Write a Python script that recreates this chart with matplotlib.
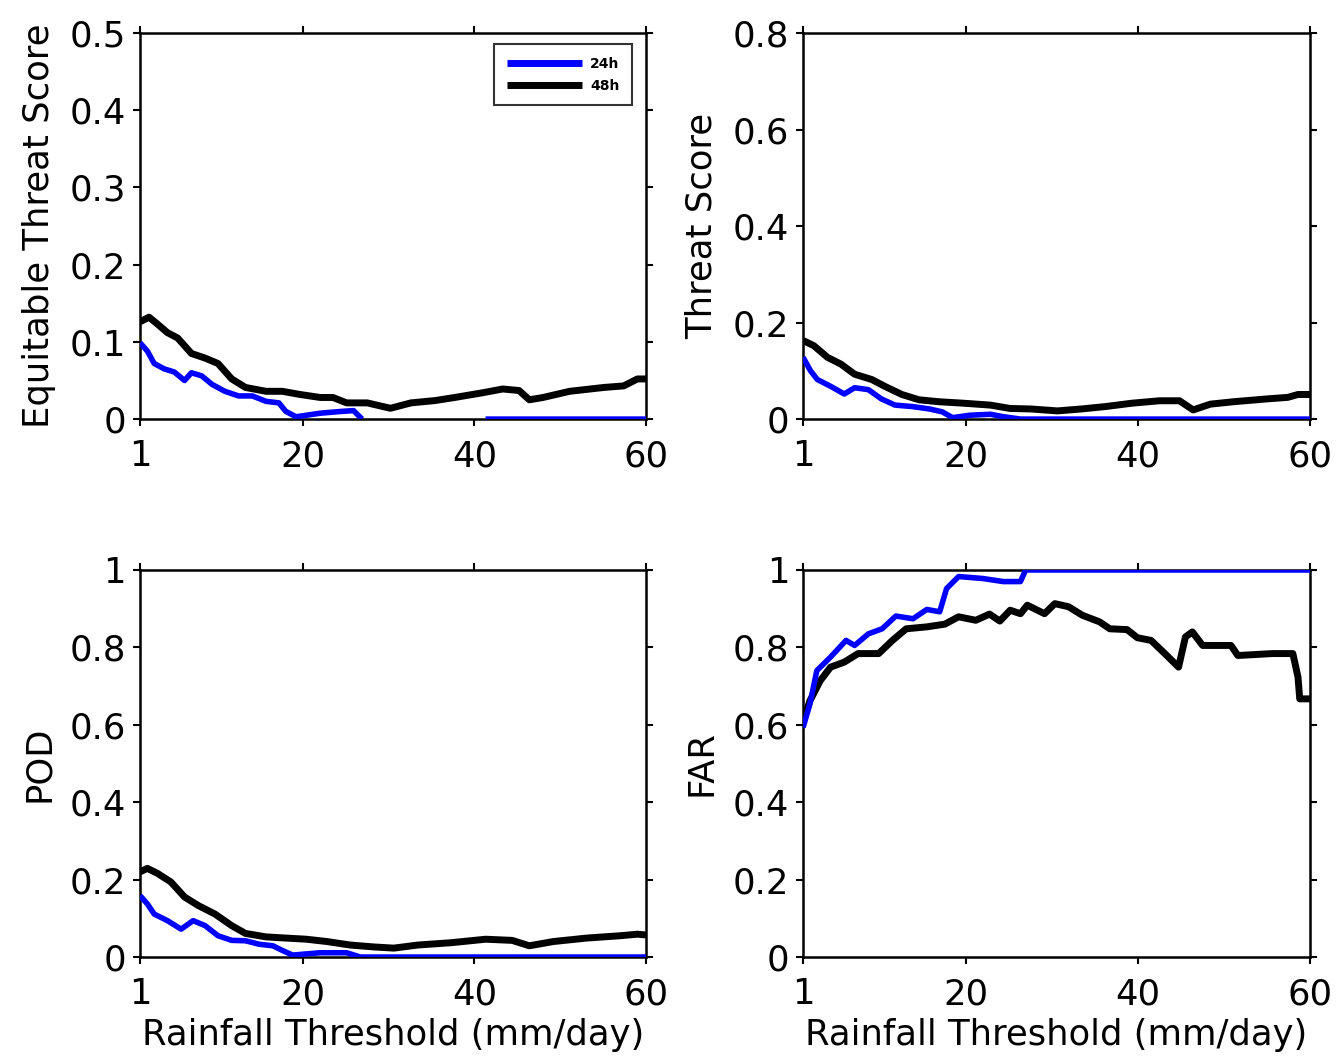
import numpy as np
import matplotlib
matplotlib.use("Agg")
import matplotlib.pyplot as plt

plt.rcParams['font.family'] = ['DejaVu Sans']

# ---------------- data ----------------
xticks = [1, 20, 40, 60]
series_labels = ["24h", "48h"]

# Equitable Threat Score
ets_24_x = [1.0, 1.87, 2.66, 3.84, 5.0, 6.2, 7.0, 8.2, 9.4, 10.9, 12.5, 14.1, 15.7, 17.2,
            18.0, 19.2, 22.0, 24.3, 25.9, 26.9, 27.0, 41.2, 41.3, 60.0]
ets_24_y = [0.099, 0.088, 0.072, 0.065, 0.061, 0.050, 0.060, 0.056, 0.045, 0.036, 0.030, 0.030,
            0.023, 0.021, 0.010, 0.003, 0.0076, 0.0098, 0.011, 0.0, np.nan, np.nan, 0.0, 0.0]
ets_48_x = [1.0, 2.06, 3.05, 4.2, 5.4, 7.0, 8.6, 10.1, 11.7, 13.3, 15.7, 17.6, 19.6, 22.0,
            23.5, 25.1, 27.5, 30.2, 32.6, 35.4, 37.7, 40.9, 43.3, 45.2, 46.4, 48.0, 51.1,
            55.1, 57.4, 59.0, 60.0]
ets_48_y = [0.126, 0.132, 0.123, 0.112, 0.105, 0.085, 0.079, 0.072, 0.052, 0.041, 0.036, 0.036,
            0.032, 0.028, 0.028, 0.021, 0.021, 0.014, 0.021, 0.024, 0.028, 0.034, 0.039, 0.037,
            0.025, 0.028, 0.036, 0.041, 0.043, 0.052, 0.052]

# Threat Score
ts_24_x = [1.0, 1.87, 2.66, 4.2, 5.8, 7.0, 8.6, 10.1, 11.7, 13.7, 15.7, 17.2, 18.4, 20.4,
           22.8, 24.3, 26.3, 60.0]
ts_24_y = [0.128, 0.100, 0.082, 0.068, 0.052, 0.065, 0.061, 0.042, 0.029, 0.026, 0.021, 0.015,
           0.003, 0.008, 0.010, 0.005, 0.0, 0.0]
ts_48_x = [1.0, 2.26, 3.84, 5.4, 7.0, 9.0, 10.5, 12.5, 14.5, 16.8, 19.6, 22.8, 25.1, 27.5,
           30.6, 33.4, 36.2, 39.3, 42.5, 44.8, 46.4, 48.4, 51.1, 55.1, 57.4, 58.6, 60.0]
ts_48_y = [0.163, 0.152, 0.128, 0.114, 0.093, 0.082, 0.068, 0.051, 0.040, 0.036, 0.033, 0.029,
           0.022, 0.021, 0.017, 0.021, 0.026, 0.033, 0.038, 0.038, 0.019, 0.031, 0.036, 0.042,
           0.045, 0.051, 0.051]

# Probability of Detection
pod_24_x = [1.0, 1.87, 2.66, 4.2, 5.8, 7.2, 8.6, 10.1, 11.7, 13.3, 14.9, 16.5, 17.6, 18.8,
            22.0, 25.1, 26.7, 60.0]
pod_24_y = [0.159, 0.137, 0.111, 0.094, 0.072, 0.094, 0.081, 0.055, 0.043, 0.042, 0.033, 0.029,
            0.017, 0.005, 0.011, 0.011, 0.0, 0.0]
pod_48_x = [1.0, 1.87, 3.05, 4.6, 6.2, 7.8, 9.75, 11.7, 13.3, 15.7, 18.0, 20.4, 22.8, 25.5,
            28.3, 30.6, 33.4, 37.3, 41.3, 44.4, 46.4, 49.2, 53.1, 57.0, 59.0, 60.0]
pod_48_y = [0.220, 0.229, 0.216, 0.194, 0.155, 0.133, 0.111, 0.081, 0.061, 0.052, 0.049, 0.046,
            0.040, 0.031, 0.026, 0.023, 0.031, 0.037, 0.046, 0.043, 0.029, 0.040, 0.049, 0.055,
            0.059, 0.057]

# False Alarm Ratio
far_24_x = [1.0, 1.8, 2.6, 4.2, 6.0, 7.0, 8.6, 10.2, 11.8, 13.8, 15.4, 16.9, 17.7, 19.1,
            21.9, 24.3, 26.3, 26.9, 60.0]
far_24_y = [0.593, 0.654, 0.740, 0.775, 0.818, 0.805, 0.835, 0.848, 0.881, 0.874, 0.898, 0.892,
            0.952, 0.983, 0.978, 0.970, 0.970, 1.0, 1.0]
far_48_x = [1.0, 1.8, 3.0, 4.2, 5.8, 7.4, 9.8, 11.4, 13.0, 15.4, 17.5, 19.1, 21.1, 22.7,
            23.9, 25.1, 26.3, 27.1, 29.1, 30.3, 31.9, 33.5, 35.5, 36.7, 38.7, 39.9, 41.5,
            43.1, 44.7, 45.5, 46.3, 47.5, 50.8, 51.6, 55.6, 58.0, 58.6, 58.8, 60.0]
far_48_y = [0.610, 0.662, 0.714, 0.749, 0.762, 0.784, 0.784, 0.818, 0.848, 0.853, 0.860, 0.879,
            0.870, 0.886, 0.868, 0.896, 0.887, 0.909, 0.887, 0.913, 0.905, 0.883, 0.866, 0.848,
            0.846, 0.825, 0.818, 0.784, 0.749, 0.827, 0.840, 0.805, 0.805, 0.779, 0.784, 0.784,
            0.723, 0.667, 0.667]

panels = [
    dict(name="Equitable Threat Score", x24=ets_24_x, y24=ets_24_y, x48=ets_48_x, y48=ets_48_y,
         ylim=(0, 0.5), yticks=[0, 0.1, 0.2, 0.3, 0.4, 0.5],
         yticklabels=["0", "0.1", "0.2", "0.3", "0.4", "0.5"]),
    dict(name="Threat Score", x24=ts_24_x, y24=ts_24_y, x48=ts_48_x, y48=ts_48_y,
         ylim=(0, 0.8), yticks=[0, 0.2, 0.4, 0.6, 0.8],
         yticklabels=["0", "0.2", "0.4", "0.6", "0.8"]),
    dict(name="POD", x24=pod_24_x, y24=pod_24_y, x48=pod_48_x, y48=pod_48_y,
         ylim=(0, 1), yticks=[0, 0.2, 0.4, 0.6, 0.8, 1.0],
         yticklabels=["0", "0.2", "0.4", "0.6", "0.8", "1"]),
    dict(name="FAR", x24=far_24_x, y24=far_24_y, x48=far_48_x, y48=far_48_y,
         ylim=(0, 1), yticks=[0, 0.2, 0.4, 0.6, 0.8, 1.0],
         yticklabels=["0", "0.2", "0.4", "0.6", "0.8", "1"]),
]

positions = [
    [0.1046, 0.605, 0.3782, 0.3638],
    [0.6002, 0.605, 0.3789, 0.3638],
    [0.1046, 0.098, 0.3782, 0.3648],
    [0.6002, 0.098, 0.3789, 0.3648],
]

fig = plt.figure(figsize=(13.38, 10.61), dpi=100)
FS = 25.5

for i, (p, pos) in enumerate(zip(panels, positions)):
    ax = fig.add_axes(pos)
    l1, = ax.plot(p["x24"], p["y24"], color=(0, 0, 1), lw=4, solid_capstyle='butt', zorder=3)
    l2, = ax.plot(p["x48"], p["y48"], color='black', lw=5, solid_capstyle='butt', zorder=2)
    ax.set_xlim(1, 60)
    ax.set_ylim(*p["ylim"])
    ax.set_xticks(xticks)
    ax.set_xticklabels([str(t) for t in xticks])
    ax.set_yticks(p["yticks"])
    ax.set_yticklabels(p["yticklabels"])
    ax.tick_params(direction='out', length=5, width=1.5, labelsize=FS,
                   top=True, right=True, pad=5)
    ax.tick_params(axis='x', pad=9.5)
    for s in ax.spines.values():
        s.set_linewidth(1.8)
    ax.set_ylabel(p["name"], fontsize=FS, labelpad=10)
    if i >= 2:
        ax.set_xlabel("Rainfall Threshold (mm/day)", fontsize=FS, labelpad=5)
    if i == 0:
        leg = ax.legend([l1, l2], series_labels, loc='upper right',
                        bbox_to_anchor=(0.972, 0.9715), borderaxespad=0,
                        prop=dict(size=10, weight='bold'), frameon=True,
                        fancybox=False, edgecolor='black', handlelength=5.4,
                        borderpad=0.9, labelspacing=0.6, handletextpad=0.6)
        leg.get_frame().set_linewidth(1.5)
        for h in leg.legend_handles:
            h.set_linewidth(5)

fig.savefig("out.png", dpi=100)
